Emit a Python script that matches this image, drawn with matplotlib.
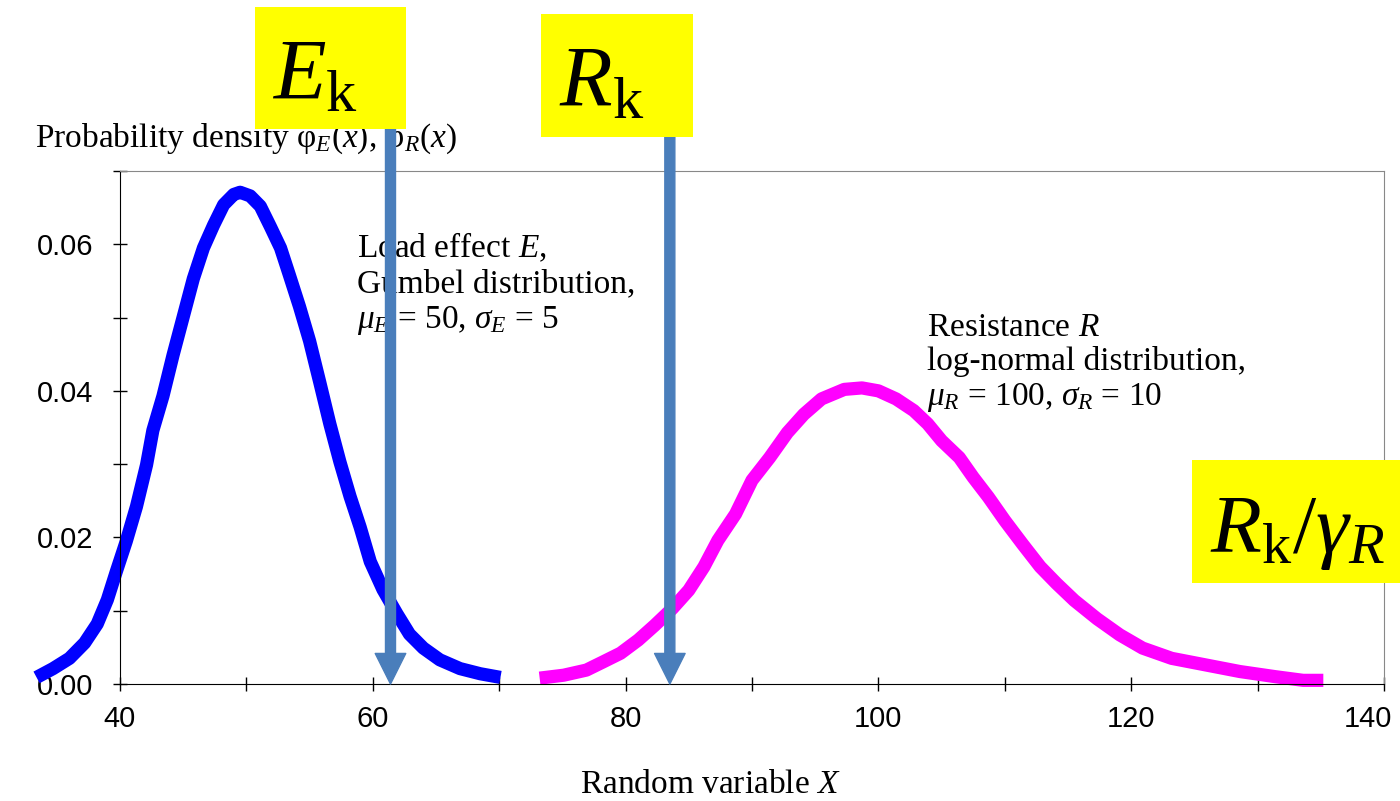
import matplotlib
matplotlib.use("Agg")
import matplotlib.pyplot as plt
from matplotlib.patches import Rectangle
from matplotlib.transforms import ScaledTranslation
from matplotlib.ticker import MultipleLocator, FormatStrFormatter, FuncFormatter

plt.rcParams['font.family'] = ['Liberation Serif', 'DejaVu Serif']
plt.rcParams['mathtext.fontset'] = 'custom'
plt.rcParams['mathtext.rm'] = 'Liberation Serif'
plt.rcParams['mathtext.it'] = 'Liberation Serif:italic'
plt.rcParams['mathtext.bf'] = 'Liberation Serif:bold'

# load effect E, Gumbel density
load_x = [33.4, 34.7, 36.0, 37.2, 38.2, 39.0, 39.7, 40.5, 41.3, 42.1, 42.6,
          43.4, 44.2, 45.0, 45.8, 46.6, 47.4, 48.2, 49.0, 49.5, 50.3, 51.1,
          51.9, 52.7, 53.4, 54.2, 55.0, 55.8, 56.6, 57.4, 58.2, 59.0, 59.8,
          60.8, 61.9, 62.9, 64.0, 65.3, 66.9, 68.5, 70.1]
load_y = [0.0009, 0.0021, 0.0035, 0.0056, 0.0082, 0.0115, 0.0153, 0.0195,
          0.0242, 0.0299, 0.0346, 0.0393, 0.0449, 0.0501, 0.0553, 0.0595,
          0.0626, 0.0654, 0.0668, 0.0671, 0.0666, 0.0652, 0.0624, 0.0595,
          0.0558, 0.0515, 0.0468, 0.0412, 0.0355, 0.0303, 0.0256, 0.0214,
          0.0167, 0.0129, 0.0096, 0.0068, 0.0049, 0.0033, 0.0021, 0.0014,
          0.0009]

# resistance R, log-normal density
res_x = [73.2, 75.1, 76.9, 78.2, 79.6, 81.0, 82.3, 83.7, 85.0, 86.2, 87.3,
         88.7, 90.0, 91.4, 92.8, 94.1, 95.5, 97.3, 98.7, 100.0, 101.4, 102.8,
         103.9, 105.0, 106.4, 107.5, 108.7, 110.0, 111.4, 112.8, 114.1, 115.5,
         117.3, 119.1, 120.9, 123.2, 125.9, 128.6, 131.4, 133.6, 135.2]
res_y = [0.0008, 0.0012, 0.0019, 0.0030, 0.0042, 0.0060, 0.0080, 0.0103,
         0.0128, 0.0160, 0.0196, 0.0232, 0.0278, 0.0309, 0.0343, 0.0368,
         0.0389, 0.0402, 0.0404, 0.0400, 0.0389, 0.0373, 0.0355, 0.0332,
         0.0309, 0.0282, 0.0255, 0.0223, 0.0191, 0.0160, 0.0137, 0.0114,
         0.0089, 0.0067, 0.0049, 0.0035, 0.0026, 0.0017, 0.0010, 0.0005,
         0.0005]

# characteristic values marked with arrows
e_k = 61.4
r_k = 83.5
arrow_top = 0.0767

x_min, x_max = 40, 140

fig = plt.figure(figsize=(14, 8.01), dpi=100)
ax = fig.add_axes([120 / 1400, 117 / 801, 1264 / 1400, 513 / 801])

ax.plot(load_x, load_y, color='#0000ff', lw=9.5, solid_capstyle='butt',
        solid_joinstyle='round', clip_on=False, zorder=2)
ax.plot(res_x, res_y, color='#ff00ff', lw=9.5, solid_capstyle='butt',
        solid_joinstyle='round', clip_on=False, zorder=2)

for xv in (e_k, r_k):
    ax.annotate('', xy=(xv, 0), xytext=(xv, arrow_top),
                arrowprops=dict(arrowstyle='simple,head_length=2.2,head_width=2.2,tail_width=0.72',
                                color='#4a7ebb', shrinkA=0, shrinkB=0),
                annotation_clip=False, zorder=4)

ax.set_xlim(x_min, x_max)
ax.set_ylim(0, 0.07)
ax.xaxis.set_major_locator(MultipleLocator(20))
ax.xaxis.set_minor_locator(MultipleLocator(10))
ax.yaxis.set_major_locator(MultipleLocator(0.02))
ax.yaxis.set_minor_locator(MultipleLocator(0.01))
ax.yaxis.set_major_formatter(FormatStrFormatter('%.2f'))
# the label at the right end is drawn separately so it stays inside the figure
ax.xaxis.set_major_formatter(FuncFormatter(lambda v, p: '' if v >= x_max else '%d' % v))
ax.tick_params(which='both', direction='inout', length=10, width=1, color='black')
ax.tick_params(axis='y', pad=14)
ax.tick_params(axis='x', pad=10)
for lab in ax.get_xticklabels() + ax.get_yticklabels():
    lab.set_fontfamily('Liberation Sans')
    lab.set_fontsize(21)

end_shift = ScaledTranslation(-0.16, -15 / 72, fig.dpi_scale_trans)
ax.text(x_max, 0, '%d' % x_max, transform=ax.get_xaxis_transform() + end_shift,
        fontfamily='Liberation Sans', fontsize=21, ha='center', va='top',
        clip_on=False)

ax.spines['top'].set_color('#888888')
ax.spines['right'].set_color('#888888')
ax.spines['left'].set_color('black')
ax.spines['bottom'].set_color('black')

ft = fig.transFigure
W, H = 1400, 801

def px(x, y):
    return x / W, 1 - y / H

ax.text(*px(35, 147), r'Probability density $\mathrm{φ}_E(x)$, $\mathrm{φ}_R(x)$',
        transform=ft, fontsize=24, va='baseline', ha='left', clip_on=False, zorder=3)
ax.text(*px(357, 328), 'Load effect $E$,\nGumbel distribution,\n$\\mu_E$ = 50, $\\sigma_E$ = 5',
        transform=ft, fontsize=24, va='baseline', ha='left', linespacing=1.2,
        clip_on=False, zorder=3)
ax.text(*px(927, 405), 'Resistance $R$\nlog-normal distribution,\n$\\mu_R$ = 100, $\\sigma_R$ = 10',
        transform=ft, fontsize=24, va='baseline', ha='left', linespacing=1.15,
        clip_on=False, zorder=3)
ax.text(*px(710, 793), 'Random variable $X$', transform=ft, fontsize=24,
        va='baseline', ha='center', clip_on=False, zorder=3)

# yellow tags
boxes = [(255, 7, 151, 122), (541, 14, 152, 123), (1192, 460, 220, 123)]
for bx, by, bw, bh in boxes:
    ax.add_patch(Rectangle(px(bx, by + bh), bw / W, bh / H, transform=ft,
                           facecolor='#ffff00', edgecolor='none',
                           clip_on=False, zorder=5))

ax.text(*px(272, 99), r'$E_\mathrm{k}$', transform=ft, fontsize=62,
        va='baseline', ha='left', clip_on=False, zorder=6)
ax.text(*px(559, 106), r'$R_\mathrm{k}$', transform=ft, fontsize=62,
        va='baseline', ha='left', clip_on=False, zorder=6)
ax.text(*px(1210, 552), r'$R_\mathrm{k}/\gamma_R$', transform=ft, fontsize=60,
        va='baseline', ha='left', clip_on=False, zorder=6)

fig.savefig('out.png', dpi=100)
